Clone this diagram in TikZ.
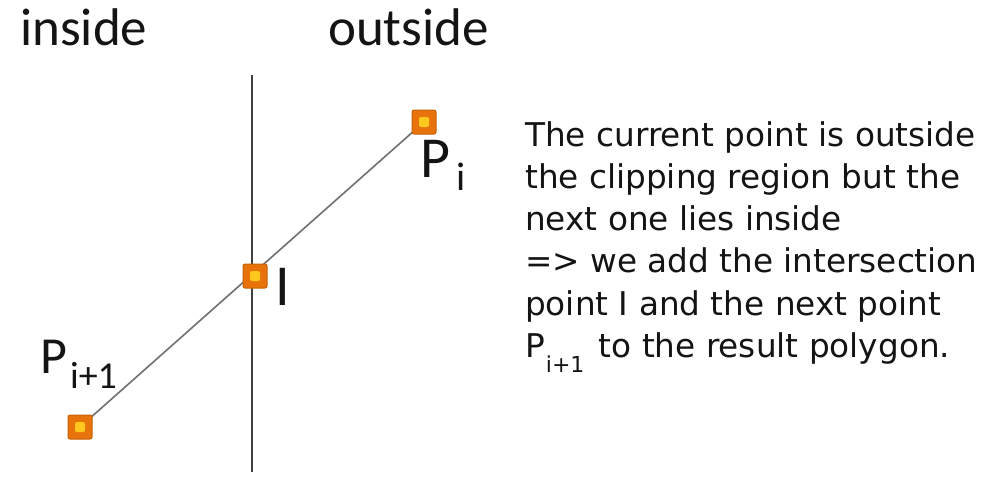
\documentclass[tikz,border=0pt]{standalone}
\usepackage{fontspec}
\setmainfont{Carlito}
\newfontfamily\verd{DejaVu Sans}
\definecolor{sqorange}{HTML}{E8730A}
\definecolor{sqyellow}{HTML}{FFC81E}
\definecolor{segcol}{HTML}{707070}
\definecolor{txt}{HTML}{141414}
\tikzset{
  pt/.style={draw=sqorange!85!black, line width=1pt, fill=sqorange, rounded corners=2pt,
    minimum size=24pt, inner sep=0pt,
    path picture={\fill[sqyellow] ([xshift=-5pt,yshift=-5pt]path picture bounding box.center) rectangle ([xshift=5pt,yshift=5pt]path picture bounding box.center);}},
  lbl/.style={anchor=base west, inner sep=0pt, text=txt},
  seg/.style={draw=segcol, line width=1.6pt},
  clipline/.style={draw=black!75, line width=1.8pt}
}
\begin{document}
\begin{tikzpicture}[x=1pt,y=-1pt]
\useasboundingbox[fill=white] (0,0) rectangle (999,479);
% clipping boundary
\coordinate (ctop) at (252,75);
\coordinate (cbot) at (252,472);
\draw[clipline] (ctop) -- (cbot);
% headings
\node[lbl, font=\fontsize{53}{53}\selectfont] (inside) at (20,45) {inside};
\node[lbl, font=\fontsize{53}{53}\selectfont] (outside) at (328,45) {outside};
% points
\coordinate (cpi) at (424,122);
\coordinate (cI) at (255,276);
\coordinate (cpn) at (80,427);
\draw[seg] (cpi) -- (cpn);
\node[pt] (pi) at (cpi) {};
\node[pt] (I) at (cI) {};
\node[pt] (pn) at (cpn) {};
% labels
\node[lbl, font=\fontsize{58}{58}\selectfont] (lpi) at (420,177) {P\hspace{6pt}\raisebox{-13pt}{\fontsize{40}{40}\selectfont i}};
\node[lbl, font=\fontsize{58}{58}\selectfont] (lI) at (275,305) {I};
\node[lbl, font=\fontsize{52}{52}\selectfont] (lpn) at (40,373) {P\hspace{3pt}\raisebox{-15pt}{\fontsize{38}{38}\selectfont i+1}};
% explanation
\node[lbl, align=left, font=\verd\fontsize{32.7}{42.3}\selectfont] (expl) at (525,357.5) {The current point is outside\\the clipping region but the\\next one lies inside\\=> we add the intersection\\point I and the next point\\P\hspace{1pt}\raisebox{-15pt}{\fontsize{22}{22}\selectfont i+1}\hspace{4pt} to the result polygon.};
\end{tikzpicture}
\end{document}
